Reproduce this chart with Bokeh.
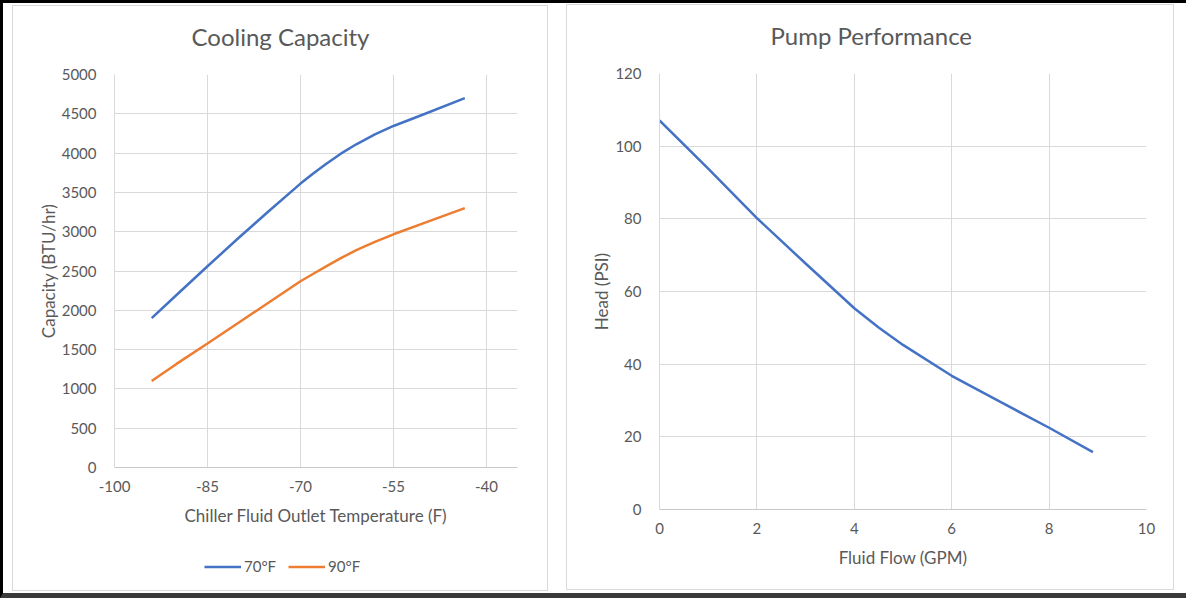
from bokeh.plotting import figure
from bokeh.layouts import row, column
from bokeh.models import Range1d, FixedTicker, Legend, LegendItem, Title
from bokeh.embed import file_html
from bokeh.resources import INLINE

# ---- data ----
temp_f = [-94, -90, -85, -80, -75, -70, -68, -66, -63.5, -61, -58, -55, -50, -43.5]
cap_70f = [1900, 2195, 2560, 2920, 3270, 3612, 3738, 3855, 3993, 4112, 4238, 4345, 4497, 4700]
cap_90f = [1101, 1318, 1578, 1842, 2105, 2370, 2462, 2552, 2663, 2765, 2870, 2967, 3112, 3300]
temp_ticks = [-100, -85, -70, -55, -40]
temp_tick_labels = ["-100", "-85", "-70", "-55", "-40"]
cap_ticks = [0, 500, 1000, 1500, 2000, 2500, 3000, 3500, 4000, 4500, 5000]
series_labels = ["70°F", "90°F"]

flow_gpm = [0, 1, 2, 3, 4, 4.5, 5, 6, 7, 8, 8.9]
head_psi = [107.1, 93.8, 80.2, 67.7, 55.4, 50.1, 45.3, 36.8, 29.6, 22.5, 15.8]
flow_ticks = [0, 2, 4, 6, 8, 10]
head_ticks = [0, 20, 40, 60, 80, 100, 120]

FONT = "Lato"
TXT = "#595959"
GRID = "#d9d9d9"
BLUE = "#4472C4"
ORANGE = "#ED7D31"
BORDER = "1px solid #d9d9d9"


def style(p, xticks, yticks, title, title_offset):
    p.title.text = ""
    # spacing between the plot area and the chart title
    p.add_layout(Title(text=" ", text_font_size="1px", standoff=16,
                       text_color="white"), "above")
    p.add_layout(Title(text=title, align="left", offset=title_offset, standoff=10,
                       text_font=FONT, text_font_size="24px",
                       text_font_style="normal", text_color=TXT), "above")
    p.xaxis.ticker = FixedTicker(ticks=xticks)
    p.yaxis.ticker = FixedTicker(ticks=yticks)
    for ax in (p.xaxis[0], p.yaxis[0]):
        ax.major_tick_line_color = None
        ax.minor_tick_line_color = None
        ax.major_label_text_font = FONT
        ax.major_label_text_font_size = "15px"
        ax.major_label_text_color = TXT
        ax.axis_label_text_font = FONT
        ax.axis_label_text_font_size = "17px"
        ax.axis_label_text_font_style = "normal"
        ax.axis_label_text_color = TXT
        ax.major_label_standoff = 7
        ax.axis_label_standoff = 10
    p.yaxis.major_label_standoff = 12
    p.yaxis.axis_label_standoff = 0
    p.xaxis.axis_line_color = "#c8c8c8"
    p.yaxis.axis_line_color = GRID
    p.xgrid.grid_line_color = GRID
    p.ygrid.grid_line_color = GRID
    p.outline_line_color = None
    p.background_fill_color = "white"
    p.border_fill_color = "white"


# ---- left panel: Cooling Capacity ----
p1 = figure(width=536, height=540, output_backend="svg", toolbar_location=None,
            x_range=Range1d(-100, -35), y_range=Range1d(0, 5000),
            min_border_left=101, min_border_right=32, min_border_top=68,
            min_border_bottom=79,
            styles={"border": BORDER, "border-bottom": "none"})
style(p1, temp_ticks, cap_ticks, "Cooling Capacity", 77)
p1.xaxis.major_label_overrides = dict(zip(temp_ticks, temp_tick_labels))
p1.xaxis.axis_label = "Chiller Fluid Outlet Temperature (F)"
p1.yaxis.axis_label = "Capacity (BTU/hr)"
p1.line(temp_f, cap_70f, line_color=BLUE, line_width=2.5)
p1.line(temp_f, cap_90f, line_color=ORANGE, line_width=2.5)

# legend strip of the left panel (same series, drawn outside its view)
pl = figure(width=536, height=46, output_backend="svg", toolbar_location=None,
            x_axis_location=None, y_axis_location=None,
            x_range=Range1d(0, 1), y_range=Range1d(0, 1),
            min_border_left=0, min_border_right=0, min_border_top=0,
            min_border_bottom=0,
            styles={"border": BORDER, "border-top": "none"})
pl.grid.visible = False
pl.outline_line_color = None
pl.title.text = ""
k70 = pl.line(temp_f, cap_70f, line_color=BLUE, line_width=2.5)
k90 = pl.line(temp_f, cap_90f, line_color=ORANGE, line_width=2.5)
leg = Legend(items=[LegendItem(label=series_labels[0], renderers=[k70]),
                    LegendItem(label=series_labels[1], renderers=[k90])],
             orientation="horizontal", location=(90, 16),
             glyph_width=37, glyph_height=17, label_standoff=3, spacing=12,
             padding=0, margin=0, border_line_color=None,
             background_fill_alpha=0,
             label_text_font=FONT, label_text_font_size="15px",
             label_text_color=TXT, label_height=17)
pl.add_layout(leg, "center")

left_panel = column(p1, pl, spacing=0, margin=(2, 0, 0, 9))

# ---- right panel: Pump Performance ----
p2 = figure(width=608, height=586, output_backend="svg", toolbar_location=None,
            x_range=Range1d(0, 10), y_range=Range1d(0, 120),
            min_border_left=92, min_border_right=29, min_border_top=68,
            min_border_bottom=82, margin=(1, 0, 0, 18),
            styles={"border": BORDER})
style(p2, flow_ticks, head_ticks, "Pump Performance", 111)
p2.xaxis.axis_label = "Fluid Flow (GPM)"
p2.yaxis.axis_label = "Head (PSI)"
p2.line(flow_gpm, head_psi, line_color=BLUE, line_width=2.5)

# the screenshot frame seen around the reference image
layout = row(left_panel, p2, width=1186, height=598,
             styles={"border-top": "3px solid #000000",
                     "border-left": "3px solid #000000",
                     "border-bottom": "5px solid #3a3a3a"})
open("out.html", "w").write(file_html(layout, INLINE))
